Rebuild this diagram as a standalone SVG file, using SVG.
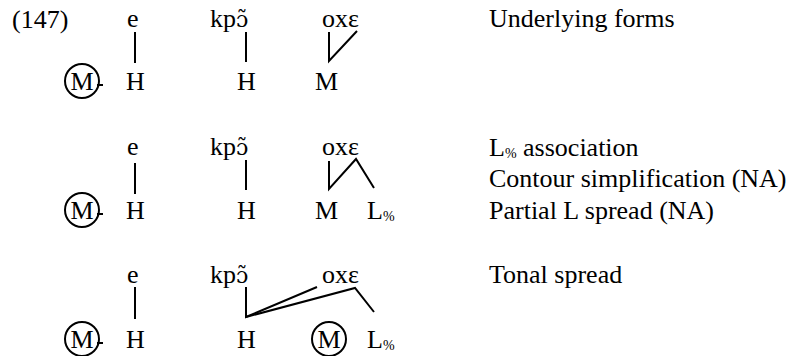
<svg xmlns="http://www.w3.org/2000/svg" width="797" height="356" viewBox="0 0 797 356" font-family="Liberation Serif, Times New Roman, DejaVu Serif, serif" font-size="26">
<style>
text{font-family:'Liberation Serif','Times New Roman','DejaVu Serif',serif;font-size:26px;fill:#000}
.sub{font-size:14px}
.c{text-anchor:middle}
.ipa{font-family:'DejaVu Serif',serif;font-size:22px}
line,polyline{stroke:#000;stroke-width:2;fill:none}
circle{stroke:#000;stroke-width:2;fill:none}
</style>
<rect width="797" height="356" fill="#fff"/>
<text id="ex" x="12" y="28">(147)</text>

<g id="row1">
<g id="r1-e"><text x="127" y="27">e</text></g>
<g id="r1-kp"><text x="210" y="27">kp<tspan class="ipa">ɔ̃</tspan></text></g>
<g id="r1-ox"><text x="322" y="27">oxɛ</text></g>
<g id="r1-cM"><circle cx="82" cy="81" r="17"/><text class="c" x="82" y="90">M</text><line x1="97" y1="85" x2="103" y2="85"/></g>
<g id="r1-H1"><text x="126" y="90">H</text></g>
<g id="r1-H2"><text x="237" y="90">H</text></g>
<g id="r1-M"><text x="315" y="90">M</text></g>
<g id="r1-label"><text x="489" y="27">Underlying forms</text></g>
</g>

<g id="row2">
<g id="r2-e"><text x="127" y="155">e</text></g>
<g id="r2-kp"><text x="210" y="155">kp<tspan class="ipa">ɔ̃</tspan></text></g>
<g id="r2-ox"><text x="322" y="155">oxɛ</text></g>
<g id="r2-cM"><circle cx="82" cy="210" r="17"/><text class="c" x="82" y="219">M</text><line x1="97" y1="214" x2="103" y2="214"/></g>
<g id="r2-H1"><text x="126" y="219">H</text></g>
<g id="r2-H2"><text x="237" y="219">H</text></g>
<g id="r2-M"><text x="315" y="219">M</text></g>
<g id="r2-L"><text x="367" y="219">L<tspan class="sub" dy="2">%</tspan></text></g>
<g id="r2-label1"><text x="489" y="156">L<tspan class="sub" dy="2">%</tspan><tspan dy="-2"> association</tspan></text></g>
<g id="r2-label2"><text x="489" y="187">Contour simplification (NA)</text></g>
<g id="r2-label3"><text x="489" y="219">Partial L spread (NA)</text></g>
</g>

<g id="row3">
<g id="r3-e"><text x="127" y="283">e</text></g>
<g id="r3-kp"><text x="210" y="283">kp<tspan class="ipa">ɔ̃</tspan></text></g>
<g id="r3-ox"><text x="322" y="283">oxɛ</text></g>
<g id="r3-cM"><circle cx="82" cy="339" r="17"/><text class="c" x="82" y="348">M</text><line x1="97" y1="343" x2="103" y2="343"/></g>
<g id="r3-H1"><text x="126" y="348">H</text></g>
<g id="r3-H2"><text x="237" y="348">H</text></g>
<g id="r3-cM2"><circle cx="329" cy="339" r="17"/><text class="c" x="329" y="348">M</text></g>
<g id="r3-L"><text x="367" y="348">L<tspan class="sub" dy="2">%</tspan></text></g>
<g id="r3-label"><text x="489" y="283">Tonal spread</text></g>
</g>

<g id="connectors">
<line x1="135" y1="32" x2="135" y2="63"/>
<line x1="246" y1="32" x2="246" y2="62"/>
<polyline points="329,32 329,61 357,31"/>

<line x1="135" y1="163" x2="135" y2="194"/>
<line x1="246" y1="160" x2="246" y2="190"/>
<polyline points="329,161 329,189 356,159 374,188"/>

<line x1="135" y1="287" x2="135" y2="319"/>
<polyline points="246,287 246,317 317,287"/>
<polyline points="246,317 355,288 374,312"/>
</g>
</svg>
